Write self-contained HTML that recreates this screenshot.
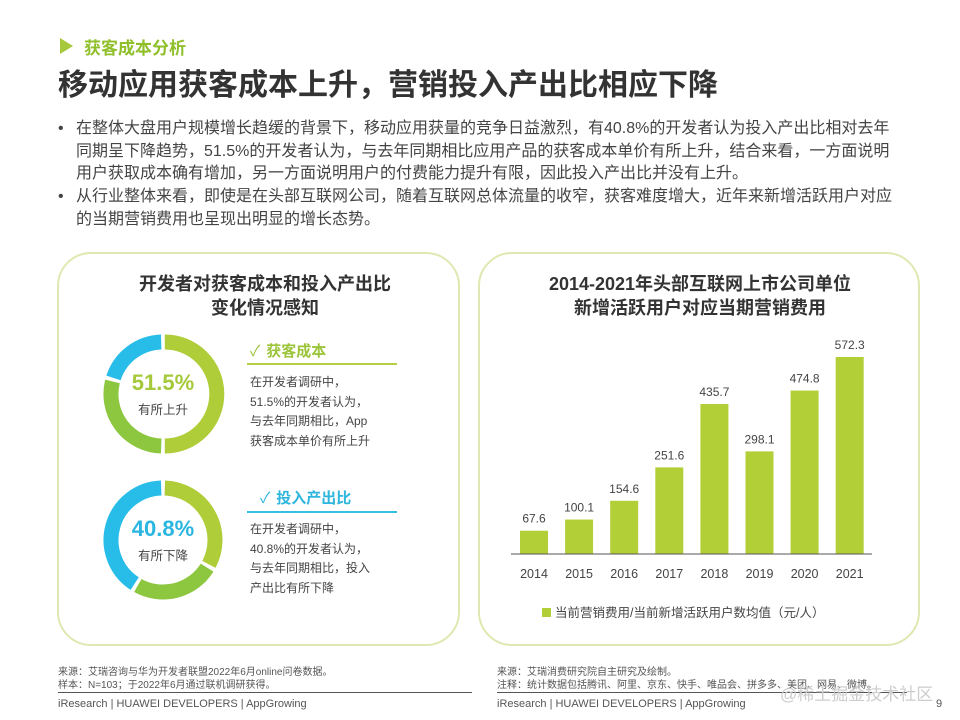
<!DOCTYPE html>
<html><head><meta charset="utf-8">
<style>
*{margin:0;padding:0;box-sizing:border-box}
body{width:960px;height:720px;background:#fff;font-family:"Liberation Sans","Noto Sans CJK SC",sans-serif;color:#444;position:relative;overflow:hidden}
.abs{position:absolute}
.bul{font-size:16px;line-height:22.5px;color:#444;white-space:nowrap}
.panel{position:absolute;border:2px solid #dde9b0;border-radius:34px}
</style></head><body>
<div class="abs" style="left:60px;top:38px;width:0;height:0;border-left:13px solid #a5c93a;border-top:8px solid transparent;border-bottom:8px solid transparent"></div>
<div class="abs" style="left:84px;top:34px;font-size:17px;font-weight:bold;color:#8fbf2b">获客成本分析</div>
<div class="abs" style="left:58px;top:60px;font-size:30px;font-weight:bold;color:#333">移动应用获客成本上升，营销投入产出比相应下降</div>
<div class="abs bul" style="left:58px;top:118px"><span style="position:absolute;left:0">•</span><div style="padding-left:18px">在整体大盘用户规模增长趋缓的背景下，移动应用获量的竞争日益激烈，有40.8%的开发者认为投入产出比相对去年<br>同期呈下降趋势，51.5%的开发者认为，与去年同期相比应用产品的获客成本单价有所上升，结合来看，一方面说明<br>用户获取成本确有增加，另一方面说明用户的付费能力提升有限，因此投入产出比并没有上升。</div></div>
<div class="abs bul" style="left:58px;top:186px"><span style="position:absolute;left:0">•</span><div style="padding-left:18px">从行业整体来看，即使是在头部互联网公司，随着互联网总体流量的收窄，获客难度增大，近年来新增活跃用户对应<br>的当期营销费用也呈现出明显的增长态势。</div></div>

<div class="panel" style="left:57px;top:252px;width:403px;height:394px"></div>
<div class="panel" style="left:478px;top:252px;width:442px;height:394px"></div>

<div class="abs" style="left:100px;top:272px;width:330px;text-align:center;font-size:18px;font-weight:bold;line-height:24px;color:#333">开发者对获客成本和投入产出比<br>变化情况感知</div>

<svg class="abs" style="left:0;top:0" width="960" height="720">
<g>
<path d="M164.8,342 A52,52 0 0 1 164.8,446" fill="none" stroke="#afcd38" stroke-width="15"/>
<path d="M161.2,446 A52,52 0 0 1 112.5,381.4" fill="none" stroke="#8dc63f" stroke-width="15"/>
<path d="M113.5,377.9 A52,52 0 0 1 161.2,342" fill="none" stroke="#28bde9" stroke-width="15"/>
</g>
<g>
<path d="M164.8,488 A52,52 0 0 1 208.9,564.4" fill="none" stroke="#afcd38" stroke-width="15"/>
<path d="M207.1,567.6 A52,52 0 0 1 137.8,585.5" fill="none" stroke="#8dc63f" stroke-width="15"/>
<path d="M134.7,583.6 A52,52 0 0 1 161.2,488" fill="none" stroke="#28bde9" stroke-width="15"/>
</g>
<line x1="247" y1="364" x2="397" y2="364" stroke="#b4cf45" stroke-width="2"/>
<line x1="247" y1="512" x2="397" y2="512" stroke="#35bfe0" stroke-width="2"/>
</svg>
<div class="abs" style="left:113px;top:370px;width:100px;text-align:center;font-size:22px;font-weight:bold;color:#a5c93a">51.5%</div>
<div class="abs" style="left:113px;top:399px;width:100px;text-align:center;font-size:12.5px;color:#444">有所上升</div>
<div class="abs" style="left:113px;top:516px;width:100px;text-align:center;font-size:22px;font-weight:bold;color:#29b6e0">40.8%</div>
<div class="abs" style="left:113px;top:545px;width:100px;text-align:center;font-size:12.5px;color:#444">有所下降</div>
<div class="abs" style="left:250px;top:340px;font-size:15px;font-weight:bold;color:#9cc43a"><span style="font-weight:normal;margin-right:6px">✓</span>获客成本</div>
<div class="abs" style="left:260px;top:487px;font-size:15px;font-weight:bold;color:#2fb6dd"><span style="font-weight:normal;margin-right:6px">✓</span>投入产出比</div>
<div class="abs" style="left:250px;top:373px;font-size:12px;line-height:19.5px;color:#444">在开发者调研中，<br>51.5%的开发者认为，<br>与去年同期相比，App<br>获客成本单价有所上升</div>
<div class="abs" style="left:250px;top:520px;font-size:12px;line-height:19.5px;color:#444">在开发者调研中，<br>40.8%的开发者认为，<br>与去年同期相比，投入<br>产出比有所下降</div>

<div class="abs" style="left:490px;top:272px;width:420px;text-align:center;font-size:18px;font-weight:bold;line-height:24px;color:#333">2014-2021年头部互联网上市公司单位<br>新增活跃用户对应当期营销费用</div>
<svg id="chart" class="abs" style="left:0;top:0" width="960" height="720"></svg>
<div class="abs" style="left:542px;top:602px;font-size:12.5px;color:#444"><span style="display:inline-block;width:9px;height:9px;background:#b2cf37;margin-right:4px"></span>当前营销费用/当前新增活跃用户数均值（元/人）</div>

<div class="abs" style="left:58px;top:666px;font-size:10px;line-height:13px;color:#555">来源：艾瑞咨询与华为开发者联盟2022年6月online问卷数据。<br>样本：N=103；于2022年6月通过联机调研获得。</div>
<div class="abs" style="left:497px;top:666px;font-size:10px;line-height:13px;color:#555">来源：艾瑞消费研究院自主研究及绘制。<br>注释：统计数据包括腾讯、阿里、京东、快手、唯品会、拼多多、美团、网易、微博。</div>
<div class="abs" style="left:58px;top:692px;width:414px;height:1px;background:#555"></div>
<div class="abs" style="left:497px;top:692px;width:410px;height:1px;background:#555"></div>
<div class="abs" style="left:58px;top:698px;font-size:11px;color:#555">iResearch | HUAWEI DEVELOPERS | AppGrowing</div>
<div class="abs" style="left:497px;top:698px;font-size:11px;color:#555">iResearch | HUAWEI DEVELOPERS | AppGrowing</div>
<div class="abs" style="left:780px;top:680px;font-size:17px;color:#ccc">@稀土掘金技术社区</div>
<div class="abs" style="left:936px;top:698px;font-size:11px;color:#555">9</div>

<script>
const years = ['2014','2015','2016','2017','2018','2019','2020','2021'];
const values = [67.6,100.1,154.6,251.6,435.7,298.1,474.8,572.3];
const labels = ['67.6','100.1','154.6','251.6','435.7','298.1','474.8','572.3'];
const NS='http://www.w3.org/2000/svg';
const svg=document.getElementById('chart');
const baseY=554, plotH=197, maxV=572.3, x0=534, step=45.1, bw=28;
const xS=i=>x0+i*step;
const yS=v=>baseY-v/maxV*plotH;
function mk(t,a){const e=document.createElementNS(NS,t);for(const k in a)e.setAttribute(k,a[k]);svg.appendChild(e);return e;}
values.forEach((v,i)=>{
  const r=mk('rect',{x:xS(i)-bw/2,y:yS(v),width:bw,height:baseY-yS(v),fill:'#b2cf37'});
  
  
  const t=mk('text',{x:xS(i),y:yS(v)-8,'text-anchor':'middle','font-size':'12','fill':'#444','font-family':'Liberation Sans, sans-serif'});
  t.textContent=labels[i];
  
  
  const y=mk('text',{x:xS(i),y:baseY+24,'text-anchor':'middle','font-size':'12.5','fill':'#444','font-family':'Liberation Sans, sans-serif'});
  y.textContent=years[i];
  
  
});
const ax=mk('line',{x1:511,y1:baseY,x2:872,y2:baseY,stroke:'#555','stroke-width':1});


</script>
</body></html>
